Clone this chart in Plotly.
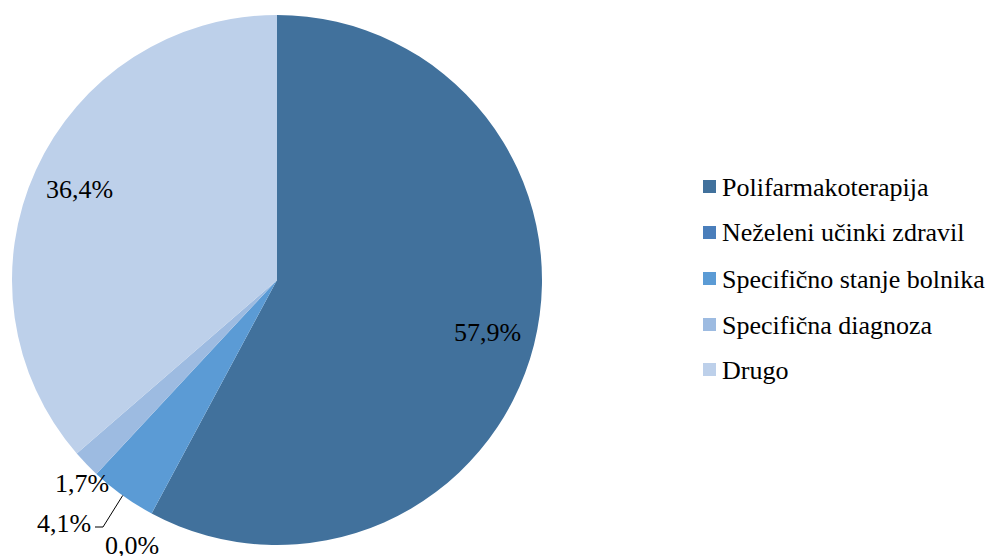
import math
import plotly.graph_objects as go

categories = ["Polifarmakoterapija", "Neželeni učinki zdravil", "Specifično stanje bolnika",
              "Specifična diagnoza", "Drugo"]
values = [57.9, 0.0, 4.1, 1.7, 36.4]
value_labels = ["57,9%", "0,0%", "4,1%", "1,7%", "36,4%"]
colors = ["#41719C", "#4A7EBB", "#5B9BD5", "#9DBBE1", "#BDD0EA"]

W, H = 993, 556
OFF = 8  # page body margin
CX, CY, R = 277 - OFF, 280 - OFF, 265  # pixel geometry of the pie (figure coords)


def px(x, y):
    # x, y given in page pixels
    return (x - OFF) / W, 1 - (y - OFF) / H


fig = go.Figure()
fig.add_trace(go.Pie(
    labels=categories, values=values, sort=False, direction="clockwise", rotation=0,
    marker=dict(colors=colors, line=dict(width=0)),
    textinfo="none", hoverinfo="label+percent", showlegend=False,
    domain=dict(x=[(CX - R) / W, (CX + R) / W], y=[1 - (CY + R) / H, 1 - (CY - R) / H]),
))

font = dict(family="Times New Roman, Liberation Serif, Tinos, Times, DejaVu Serif, serif",
            size=26, color="#000000")

total = sum(values)
cum = 0
mids = []
for v in values:
    mids.append((cum + v / 2) / total * 2 * math.pi)
    cum += v


def pt(i, f):
    a = mids[i]
    return CX + OFF + f * R * math.sin(a), CY + OFF - f * R * math.cos(a)


annotations = []
for i in (0, 4):
    x, y = pt(i, 0.82)
    ax, ay = px(x, y)
    annotations.append(dict(x=ax, y=ay, xref="paper", yref="paper", text=value_labels[i],
                            showarrow=False, font=font, xanchor="center", yanchor="middle"))
small_pos = {3: (82, 483, "center"), 2: (93, 523, "right"), 1: (132, 545, "center")}
for i, (x, y, anc) in small_pos.items():
    ax, ay = px(x, y)
    annotations.append(dict(x=ax, y=ay, xref="paper", yref="paper", text=value_labels[i],
                            showarrow=False, font=font, xanchor=anc, yanchor="middle"))

ex, ey = pt(2, 1.0)
p0 = px(ex, ey)
p1 = px(103, 527)
p2 = px(95, 527)
shapes = [dict(type="path", xref="paper", yref="paper",
               path=f"M {p0[0]},{p0[1]} L {p1[0]},{p1[1]} L {p2[0]},{p2[1]}",
               line=dict(color="#000000", width=1))]

legend_y = [187, 233, 279, 325, 370]
for i, name in enumerate(categories):
    y = legend_y[i]
    x0, y0 = px(703, y - 7)
    x1, y1 = px(716, y + 6)
    shapes.append(dict(type="rect", xref="paper", yref="paper", x0=x0, y0=y0, x1=x1, y1=y1,
                       fillcolor=colors[i], line=dict(width=0)))
    tx, ty = px(720, y)
    annotations.append(dict(x=tx, y=ty, xref="paper", yref="paper", text=name,
                            showarrow=False, font=font, xanchor="left", yanchor="middle"))

fig.update_layout(
    width=W, height=H, margin=dict(l=0, r=0, t=0, b=0),
    paper_bgcolor="#FFFFFF", plot_bgcolor="#FFFFFF",
    font=font,
    annotations=annotations, shapes=shapes, showlegend=False,
)
fig.write_html("out.html")
